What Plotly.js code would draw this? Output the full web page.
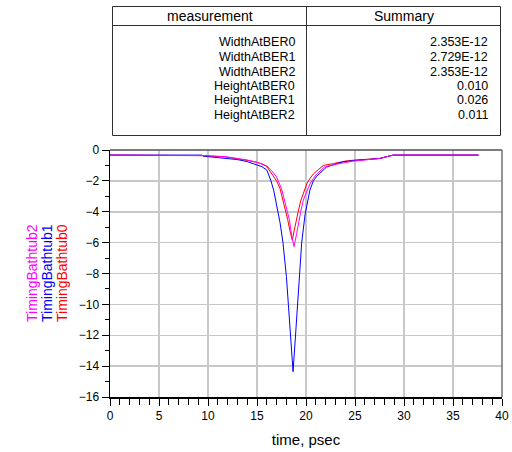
<!DOCTYPE html>
<html>
<head>
<meta charset="utf-8">
<script src="https://cdn.plot.ly/plotly-3.0.1.min.js"></script>
<style>html,body{margin:0;padding:0;background:#fff;}#chart{width:512px;height:452px;}</style>
</head>
<body>
<div id="chart"></div>
<script>
// Series 0 (red) – TimingBathtub0
var time0 = [0, 9.5, 9.6, 11.8, 13, 14, 15, 15.5, 16, 16.67, 17.0, 17.35, 17.8, 18.13, 18.35, 18.6, 18.8, 19.05, 19.2, 19.46, 19.8, 20.07, 20.4, 20.75, 21.3, 21.77, 22.8, 24, 25, 26, 27.2, 27.5, 28.9, 37.6];
var bathtub0 = [-0.33, -0.33, -0.37, -0.45, -0.55, -0.67, -0.8, -0.9, -1.08, -1.7, -2.0, -2.5, -3.6, -4.5, -5.2, -5.85, -5.2, -4.3, -4.0, -3.3, -2.6, -2.2, -1.85, -1.55, -1.25, -1.0, -0.88, -0.72, -0.65, -0.61, -0.58, -0.55, -0.33, -0.33];
// Series 1 (blue) – TimingBathtub1
var time1 = [0, 9.4, 9.5, 11.2, 13, 14, 15, 15.5, 16, 16.4, 16.7, 17.0, 17.35, 17.65, 18.0, 18.2, 18.45, 18.68, 18.9, 19.1, 19.3, 19.56, 19.9, 20.2, 20.4, 20.75, 21.1, 22.1, 23, 23.8, 25, 26, 27.2, 27.5, 28.9, 37.6];
var bathtub1 = [-0.33, -0.33, -0.4, -0.52, -0.62, -0.75, -0.95, -1.08, -1.3, -1.95, -2.6, -3.5, -4.7, -6.0, -8.2, -10.0, -12.3, -14.36, -12.3, -10.2, -8.3, -6.0, -4.2, -3.2, -2.6, -2.0, -1.7, -1.1, -0.9, -0.76, -0.68, -0.63, -0.58, -0.55, -0.33, -0.33];
// Series 2 (magenta) – TimingBathtub2
var time2 = [0, 9.5, 9.6, 11.8, 13, 14, 15, 15.5, 16, 16.5, 17.0, 17.5, 17.96, 18.3, 18.55, 18.78, 19.05, 19.32, 19.46, 19.73, 20.0, 20.4, 20.75, 21.1, 21.9, 23.1, 24.8, 26, 27.2, 27.5, 28.9, 37.6];
var bathtub2 = [-0.33, -0.33, -0.36, -0.43, -0.53, -0.65, -0.8, -0.9, -1.03, -1.35, -1.75, -2.5, -3.6, -4.5, -5.6, -6.26, -5.4, -4.32, -4.0, -3.24, -2.8, -2.2, -1.85, -1.55, -1.1, -0.92, -0.72, -0.63, -0.58, -0.55, -0.33, -0.33];

var seriesNames = ["TimingBathtub0", "TimingBathtub1", "TimingBathtub2"];
var seriesColors = ["#ff0000", "#0000ff", "#ff00ff"];

// Measurement table
var measurementNames = ["WidthAtBER0", "WidthAtBER1", "WidthAtBER2", "HeightAtBER0", "HeightAtBER1", "HeightAtBER2"];
var summaryValues = ["2.353E-12", "2.729E-12", "2.353E-12", "0.010", "0.026", "0.011"];
var tableHeaders = ["measurement", "Summary"];

var W = 512, H = 452;
var L = 110, R = 10, T = 150, B = 55;
var pw = W - L - R, ph = H - T - B;
function px(x) { return (x - L) / pw; }
function py(y) { return (H - B - y) / ph; }

var FONT = "Liberation Sans, Arial, sans-serif";

var traces = [
  {x: time0, y: bathtub0, name: seriesNames[0], mode: "lines", line: {color: seriesColors[0], width: 1}},
  {x: time1, y: bathtub1, name: seriesNames[1], mode: "lines", line: {color: seriesColors[1], width: 1}},
  {x: time2, y: bathtub2, name: seriesNames[2], mode: "lines", line: {color: seriesColors[2], width: 1}}
];

var shapes = [];
function hline(x0, x1, y, c) { shapes.push({type: "line", xref: "paper", yref: "paper", x0: px(x0), x1: px(x1), y0: py(y), y1: py(y), line: {color: c, width: 1}}); }
function vline(x, y0, y1, c) { shapes.push({type: "line", xref: "paper", yref: "paper", x0: px(x), x1: px(x), y0: py(y0), y1: py(y1), line: {color: c, width: 1}}); }
var tc = "#303030";
var tL = 112.5, tR = 500.5, tT = 6.5, tB = 135.5, tH = 25.5, tM = 306.5;
hline(tL, tR, tT, tc); hline(tL, tR, tB, tc); hline(tL, tR, tH, tc);
vline(tL, tT, tB, tc); vline(tR, tT, tB, tc); vline(tM, tT, tB, tc);
// plot frame top/right
shapes.push({type: "line", xref: "paper", yref: "paper", x0: 0, x1: 1, y0: 1, y1: 1, line: {color: "#505050", width: 1.5}});
shapes.push({type: "line", xref: "paper", yref: "paper", x0: 1, x1: 1, y0: 0, y1: 1, line: {color: "#707070", width: 1.5}});

var annotations = [];
var hf = {family: FONT, size: 14, color: "#000"};
var tf = {family: FONT, size: 12.5, color: "#000"};
annotations.push({xref: "paper", yref: "paper", x: px((tL + tM) / 2), y: py(16), text: tableHeaders[0], showarrow: false, xanchor: "center", yanchor: "middle", font: hf});
annotations.push({xref: "paper", yref: "paper", x: px((tM + tR) / 2), y: py(16), text: tableHeaders[1], showarrow: false, xanchor: "center", yanchor: "middle", font: hf});
for (var i = 0; i < measurementNames.length; i++) {
  var yy = 42.5 + i * 14.5;
  annotations.push({xref: "paper", yref: "paper", x: px(296), y: py(yy), text: measurementNames[i], showarrow: false, xanchor: "right", yanchor: "middle", borderpad: 0, font: tf});
  annotations.push({xref: "paper", yref: "paper", x: px(489), y: py(yy), text: summaryValues[i], showarrow: false, xanchor: "right", yanchor: "middle", borderpad: 0, font: tf});
}
// stacked y-axis titles
var titleX = [62, 47, 32];
for (var k = 0; k < 3; k++) {
  annotations.push({xref: "paper", yref: "paper", x: px(titleX[k]), y: py(273), text: seriesNames[k], textangle: -90, showarrow: false, xanchor: "center", yanchor: "middle", borderpad: 0, font: {family: FONT, size: 14, color: seriesColors[k]}});
}

var layout = {
  width: W, height: H,
  margin: {l: L, r: R, t: T, b: B, pad: 0},
  paper_bgcolor: "#fff", plot_bgcolor: "#fff",
  showlegend: false,
  font: {family: FONT, size: 12, color: "#000"},
  xaxis: {
    range: [0, 40], dtick: 5, tick0: 0, ticks: "outside", ticklen: 7, tickcolor: "#000", tickwidth: 1,
    showline: true, linecolor: "#000", linewidth: 1.5, zeroline: false,
    showgrid: true, gridcolor: "#c8c8c8", gridwidth: 1.5,
    minor: {dtick: 1, ticks: "outside", ticklen: 6, tickcolor: "#000", showgrid: false},
    tickfont: {family: FONT, size: 12, color: "#000"},
    title: {text: "time, psec", font: {family: FONT, size: 15, color: "#000"}, standoff: 12}
  },
  yaxis: {
    range: [-16, 0], dtick: 2, tick0: 0, ticks: "outside", ticklen: 7, tickcolor: "#000", tickwidth: 1,
    showline: true, linecolor: "#000", linewidth: 1.5, zeroline: false,
    showgrid: true, gridcolor: "#c8c8c8", gridwidth: 1.5,
    minor: {dtick: 1, ticks: "outside", ticklen: 4, tickcolor: "#000", showgrid: false},
    tickfont: {family: FONT, size: 12, color: "#000"}
  },
  shapes: shapes,
  annotations: annotations
};

Plotly.newPlot("chart", traces, layout, {displayModeBar: false, staticPlot: true});
</script>
</body>
</html>
